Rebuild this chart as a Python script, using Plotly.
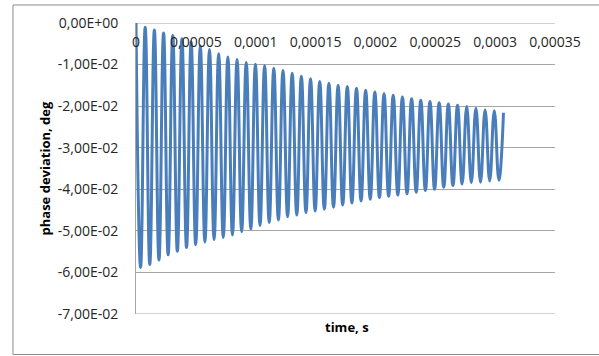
import plotly.graph_objects as go

# Damped phase oscillation: successive maxima and minima of the response
peak_values = [
    0.0, -0.0010, -0.0017, -0.0024, -0.0030, -0.0038, -0.0046, -0.0055,
    -0.0064, -0.0074, -0.0082, -0.0088, -0.0095, -0.0099, -0.0103, -0.0109,
    -0.0114, -0.0121, -0.0128, -0.0134, -0.0141, -0.0145, -0.0150, -0.0153,
    -0.0157, -0.0162, -0.0166, -0.0170, -0.0174, -0.0178, -0.0182, -0.0186,
    -0.0189, -0.0192, -0.0195, -0.0198, -0.0201, -0.0205, -0.0209, -0.0211,
    -0.0216,
]
trough_values = [
    -0.0588, -0.0581, -0.0570, -0.0558, -0.0549, -0.0540, -0.0533, -0.0527,
    -0.0521, -0.0516, -0.0510, -0.0502, -0.0496, -0.0487, -0.0480, -0.0474,
    -0.0466, -0.0462, -0.0456, -0.0452, -0.0448, -0.0443, -0.0438, -0.0433,
    -0.0428, -0.0424, -0.0420, -0.0417, -0.0414, -0.0411, -0.0407, -0.0403,
    -0.0400, -0.0395, -0.0391, -0.0387, -0.0384, -0.0383, -0.0380, -0.0378,
]
half_period = 3.837e-6  # s, time between a maximum and the next minimum

x_tick_vals = [0, 0.00005, 0.0001, 0.00015, 0.0002, 0.00025, 0.0003, 0.00035]
x_tick_text = ["0", "0,00005", "0,0001", "0,00015", "0,0002", "0,00025", "0,0003", "0,00035"]
y_tick_vals = [0, -0.01, -0.02, -0.03, -0.04, -0.05, -0.06, -0.07]
y_tick_text = ["0,00E+00", "-1,00E-02", "-2,00E-02", "-3,00E-02",
               "-4,00E-02", "-5,00E-02", "-6,00E-02", "-7,00E-02"]

# interleave maxima and minima into one time series
values = []
for i, p in enumerate(peak_values):
    values.append(p)
    if i < len(trough_values):
        values.append(trough_values[i])
times = [i * half_period for i in range(len(values))]

font_family = "Open Sans"
text_color = "#262626"
grid_color = "#a6a6a6"

fig = go.Figure()
fig.add_trace(go.Scatter(
    x=times, y=values, mode="lines",
    line=dict(color="#4a7ebb", width=3, shape="spline", smoothing=1.3),
    hoverinfo="skip", showlegend=False,
))

# outer chart frame plus the grid lines at both ends of the value range
shapes = [dict(
    type="rect", xref="paper", yref="paper",
    x0=-0.2936, x1=1.2, y0=-0.1392, y1=1.0619,
    line=dict(color="#8c8c8c", width=1), fillcolor="rgba(0,0,0,0)",
    layer="below",
)]
for yv in (y_tick_vals[0], y_tick_vals[-1]):
    shapes.append(dict(
        type="line", xref="paper", yref="y", x0=0, x1=1, y0=yv, y1=yv,
        line=dict(color=grid_color, width=1), layer="below",
    ))

fig.update_layout(
    width=599, height=356,
    margin=dict(l=136, r=44, t=23, b=42),
    paper_bgcolor="white", plot_bgcolor="white",
    font=dict(family=font_family, size=14, color=text_color),
    xaxis=dict(
        range=[0, 0.00035], tickvals=x_tick_vals, ticktext=x_tick_text,
        showgrid=False, zeroline=False, showline=False, ticks="",
        side="bottom", anchor="free", position=0.968,
        tickfont=dict(family=font_family, size=14, color=text_color),
    ),
    yaxis=dict(
        range=[-0.07, 0], tickvals=y_tick_vals, ticktext=y_tick_text,
        showgrid=True, gridcolor=grid_color, gridwidth=1, zeroline=False,
        showline=True, linecolor=grid_color, linewidth=1, ticks="",
        ticklabelstandoff=14,
        tickfont=dict(family=font_family, size=14, color=text_color),
    ),
    shapes=shapes,
    annotations=[
        dict(text="<b>phase deviation, deg</b>", xref="paper", yref="paper",
             x=-0.2172, y=0.5, xanchor="center", yanchor="middle",
             textangle=-90, showarrow=False,
             font=dict(family=font_family, size=13, color="#000000")),
        dict(text="<b>time, s</b>", xref="paper", yref="paper",
             x=0.504, y=-0.0447, xanchor="center", yanchor="middle",
             showarrow=False,
             font=dict(family=font_family, size=13, color="#000000")),
    ],
)

fig.write_html("out.html")
